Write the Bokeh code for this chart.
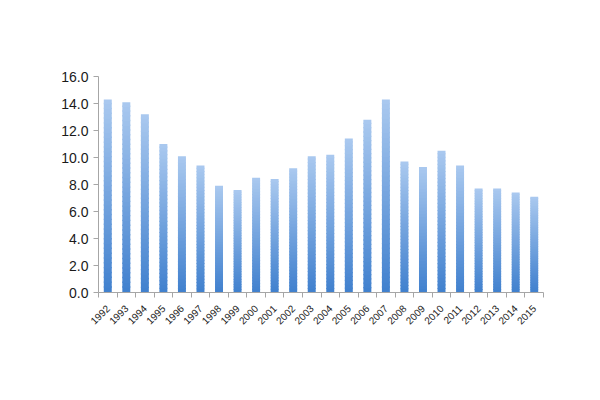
import numpy as np
from bokeh.plotting import figure
from bokeh.models import FixedTicker, Range1d, ColumnDataSource
from bokeh.embed import file_html
from bokeh.resources import INLINE

years = ["1992", "1993", "1994", "1995", "1996", "1997", "1998", "1999",
         "2000", "2001", "2002", "2003", "2004", "2005", "2006", "2007",
         "2008", "2009", "2010", "2011", "2012", "2013", "2014", "2015"]
values = [14.3, 14.1, 13.2, 11.0, 10.1, 9.4, 7.9, 7.6,
          8.5, 8.4, 9.2, 10.1, 10.2, 11.4, 12.8, 14.3,
          9.7, 9.3, 10.5, 9.4, 7.7, 7.7, 7.4, 7.1]
y_ticks = [0, 2, 4, 6, 8, 10, 12, 14, 16]

top_rgb = np.array([0xAA, 0xC9, 0xEF])
bot_rgb = np.array([0x40, 0x80, 0xCE])

p = figure(width=584, height=384, output_backend="svg", toolbar_location=None,
           x_range=Range1d(0, len(years)), y_range=Range1d(0, 16),
           min_border_left=98, min_border_right=41,
           min_border_top=76, min_border_bottom=92)

# gradient bars: each bar built from thin slices from its base to its top
n_slices = 40
xs, bottoms, tops, colors = [], [], [], []
for i, v in enumerate(values):
    for k in range(n_slices):
        f0 = k / n_slices
        f1 = (k + 1) / n_slices
        t = (f0 + f1) / 2
        c = bot_rgb + (top_rgb - bot_rgb) * t
        xs.append(i + 0.5)
        bottoms.append(v * f0)
        tops.append(v * f1 + (v / n_slices) * 0.3 if k < n_slices - 1 else v * f1)
        colors.append("#%02x%02x%02x" % tuple(int(round(x)) for x in c))

src = ColumnDataSource(dict(x=xs, bottom=bottoms, top=tops, color=colors))
p.vbar(x="x", bottom="bottom", top="top", width=0.43, fill_color="color",
       line_color=None, source=src)

# axes
p.xgrid.visible = False
p.ygrid.visible = False
p.outline_line_color = None

centers = [i + 0.5 for i in range(len(years))]
bounds = list(range(len(years) + 1))
p.xaxis.ticker = FixedTicker(ticks=centers, minor_ticks=bounds)
p.xaxis.major_label_overrides = {c: y for c, y in zip(centers, years)}
p.xaxis.major_tick_line_color = None
p.xaxis.minor_tick_line_color = "#a6a6a6"
p.xaxis.minor_tick_out = 5
p.xaxis.minor_tick_in = 0
p.xaxis.axis_line_color = "#a6a6a6"
p.xaxis.major_label_orientation = np.pi / 4
p.xaxis.major_label_text_font = "Liberation Sans"
p.xaxis.major_label_text_font_size = "10px"
p.xaxis.major_label_text_color = "#222222"
p.xaxis.major_label_standoff = 8

p.yaxis.ticker = FixedTicker(ticks=y_ticks)
p.yaxis.major_label_overrides = {t: "%.1f" % t for t in y_ticks}
p.yaxis.minor_tick_line_color = None
p.yaxis.major_tick_line_color = "#a6a6a6"
p.yaxis.major_tick_out = 5
p.yaxis.major_tick_in = 0
p.yaxis.axis_line_color = "#a6a6a6"
p.yaxis.major_label_text_font = "Liberation Sans"
p.yaxis.major_label_text_font_size = "14px"
p.yaxis.major_label_text_color = "#1a1a1a"
p.yaxis.major_label_standoff = 5

open("out.html", "w").write(file_html(p, INLINE))
